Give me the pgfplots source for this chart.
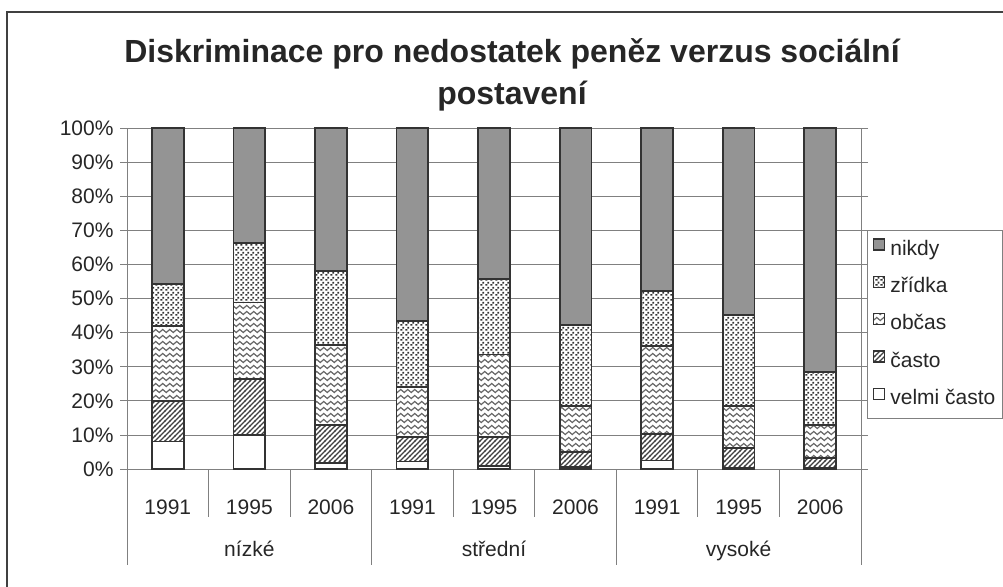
\documentclass[border=0pt]{standalone}
\usepackage{fontspec}
\setmainfont{Liberation Sans}
\usepackage{pgfplots}
\pgfplotsset{compat=1.18}
\usetikzlibrary{patterns}

% fill patterns of the scanned chart
\pgfdeclarepatternformonly{diagl}{\pgfpoint{-1pt}{-1pt}}{\pgfpoint{6pt}{6pt}}{\pgfpoint{5pt}{5pt}}{
  \pgfsetlinewidth{1.3pt}
  \pgfpathmoveto{\pgfpoint{-0.5pt}{-0.5pt}}\pgfpathlineto{\pgfpoint{5.5pt}{5.5pt}}
  \pgfusepath{stroke}}
\pgfdeclarepatternformonly{wavy}{\pgfpoint{-1pt}{-1pt}}{\pgfpoint{8pt}{7pt}}{\pgfpoint{7pt}{6pt}}{
  \pgfsetlinewidth{1.2pt}
  \pgfpathmoveto{\pgfpoint{0pt}{3pt}}
  \pgfpathcurveto{\pgfpoint{1.1pt}{5pt}}{\pgfpoint{2.4pt}{5pt}}{\pgfpoint{3.5pt}{3pt}}
  \pgfpathcurveto{\pgfpoint{4.6pt}{1pt}}{\pgfpoint{5.9pt}{1pt}}{\pgfpoint{7pt}{3pt}}
  \pgfusepath{stroke}}
\pgfdeclarepatternformonly{blobs}{\pgfpointorigin}{\pgfpoint{5pt}{5pt}}{\pgfpoint{5pt}{5pt}}{
  \pgfpathrectangle{\pgfpoint{0.3pt}{0.3pt}}{\pgfpoint{2.6pt}{1.9pt}}
  \pgfpathrectangle{\pgfpoint{2.9pt}{2.7pt}}{\pgfpoint{1.9pt}{2.3pt}}
  \pgfusepath{fill}}

\newcommand{\ticksize}{\fontsize{21}{25}\selectfont}

\begin{document}
\begin{tikzpicture}
\path[use as bounding box] (0pt,0pt) rectangle (1003pt,-586pt);
\draw[black!75, line width=1.6pt] (7pt,-600pt) -- (7pt,-12pt) -- (1020pt,-12pt);
\node[font=\fontsize{32}{38}\selectfont\bfseries, text=black!85, anchor=base]
  at (512pt,-63pt) {Diskriminace pro nedostatek peněz verzus sociální};
\node[font=\fontsize{32}{38}\selectfont\bfseries, text=black!85, anchor=base]
  at (512pt,-104pt) {postavení};
\begin{axis}[
    at={(127pt,-469pt)}, anchor=south west,
    scale only axis, width=734pt, height=340.7pt,
    ybar stacked, bar width=0.39,
    xmin=-0.5, xmax=8.5, ymin=0, ymax=100,
    clip=false,
    /pgf/number format/assume math mode=true,
    xtick={0,...,8},
    xticklabels={1991,1995,2006,1991,1995,2006,1991,1995,2006},
    xtick style={draw=none},
    xticklabel style={anchor=center, yshift=-31pt, font=\ticksize, text=black!85},
    ytick={0,10,...,100},
    yticklabel={\pgfmathprintnumber{\tick}\%},
    yticklabel style={font=\ticksize, text=black!85, xshift=-3pt},
    tick align=outside, major tick length=7pt,
    ytick style={gray, line width=0.8pt},
    ymajorgrids, grid style={gray, line width=0.8pt},
    axis line style={gray, line width=0.8pt},
    reverse legend,
    legend cell align=left,
    legend image code/.code={\draw[#1, line width=1.2pt] (0pt,0pt) rectangle (11pt,11pt);},
    legend style={at={(1.0078,0.7015)}, anchor=north west, draw=gray,
      line width=0.8pt, font=\ticksize, text=black!85,
      inner xsep=6pt, inner ysep=8pt, row sep=15pt,
      nodes={inner sep=1pt, text height=15pt, text depth=4.5pt},
      /tikz/every odd column/.style={column sep=4pt}},
  ]
  % velmi často
  \addplot[fill=white, draw=black!80, line width=1.8pt] coordinates
    {(0,8.1)(1,10.0)(2,1.7)(3,2.2)(4,0.9)(5,0.7)(6,2.5)(7,0.3)(8,0.3)};
  % často
  \addplot[fill=white, draw=black!80, line width=1.8pt,
    postaction={pattern=diagl, pattern color=black!75}] coordinates
    {(0,11.8)(1,16.5)(2,11.3)(3,7.3)(4,8.6)(5,4.4)(6,7.7)(7,5.8)(8,3.0)};
  % občas
  \addplot[fill=white, draw=black!80, line width=1.8pt,
    postaction={pattern=wavy, pattern color=black!60}] coordinates
    {(0,22.0)(1,22.4)(2,23.3)(3,14.5)(4,24.1)(5,13.5)(6,25.9)(7,12.5)(8,9.7)};
  % zřídka
  \addplot[fill=white, draw=black!80, line width=1.8pt,
    postaction={pattern=blobs, pattern color=black!80}] coordinates
    {(0,12.4)(1,17.5)(2,21.9)(3,19.5)(4,22.2)(5,23.6)(6,16.2)(7,26.5)(8,15.5)};
  % nikdy
  \addplot[fill=black!42, draw=black!80, line width=1.8pt] coordinates
    {(0,45.7)(1,33.6)(2,41.8)(3,56.5)(4,44.2)(5,57.8)(6,47.7)(7,54.9)(8,71.5)};
  \legend{velmi často,často,občas,zřídka,nikdy}

  % category axis separators
  \draw[gray, line width=0.8pt] (axis cs:0.5,0) -- ++(0pt,-48pt);
  \draw[gray, line width=0.8pt] (axis cs:1.5,0) -- ++(0pt,-48pt);
  \draw[gray, line width=0.8pt] (axis cs:3.5,0) -- ++(0pt,-48pt);
  \draw[gray, line width=0.8pt] (axis cs:4.5,0) -- ++(0pt,-48pt);
  \draw[gray, line width=0.8pt] (axis cs:6.5,0) -- ++(0pt,-48pt);
  \draw[gray, line width=0.8pt] (axis cs:7.5,0) -- ++(0pt,-48pt);
  \draw[gray, line width=0.8pt] (axis cs:-0.5,0) -- ++(0pt,-96pt);
  \draw[gray, line width=0.8pt] (axis cs:2.5,0) -- ++(0pt,-96pt);
  \draw[gray, line width=0.8pt] (axis cs:5.5,0) -- ++(0pt,-96pt);
  \draw[gray, line width=0.8pt] (axis cs:8.5,0) -- ++(0pt,-96pt);
  \node[font=\ticksize, text=black!85, anchor=base] at (axis cs:1,0) [yshift=-87pt] {nízké};
  \node[font=\ticksize, text=black!85, anchor=base] at (axis cs:4,0) [yshift=-87pt] {střední};
  \node[font=\ticksize, text=black!85, anchor=base] at (axis cs:7,0) [yshift=-87pt] {vysoké};
\end{axis}
\end{tikzpicture}
\end{document}
